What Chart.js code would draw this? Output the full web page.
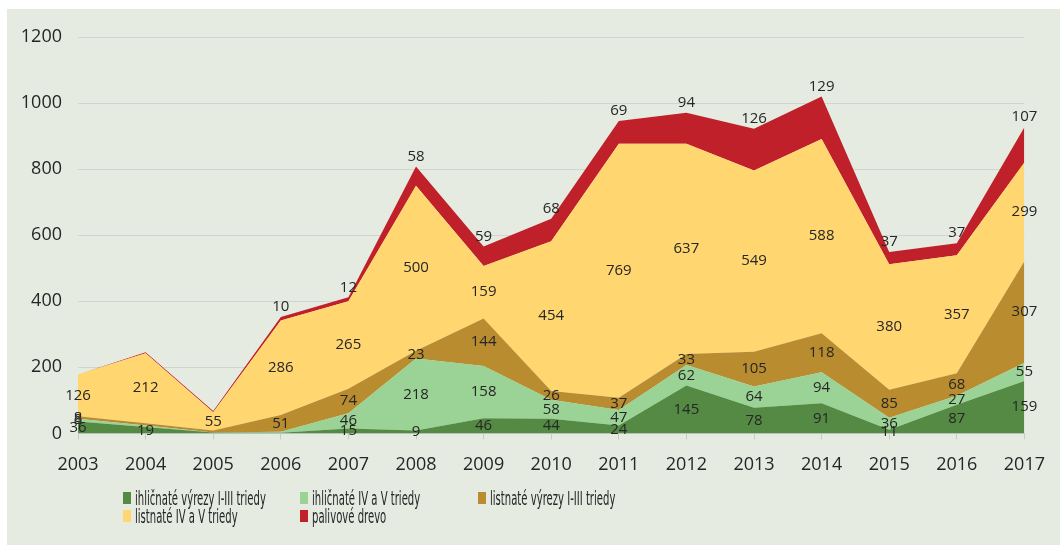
<!DOCTYPE html>
<html>
<head>
<meta charset="utf-8">
<script src="https://cdn.jsdelivr.net/npm/chart.js@4.4.1/dist/chart.umd.min.js"></script>
<style>
    body { margin: 0; background: #fff; width: 1060px; height: 545px; overflow: hidden; }
    .panel { position: absolute; left: 7px; top: 9px; width: 1053px; height: 536px; background: #E6EBE2; }
    .panel canvas { position: absolute; left: 0; top: 0; }
    .legend-item { position: absolute; height: 18px; display: flex; align-items: center;
        font-family: "DejaVu Sans Condensed", "Liberation Sans Narrow", sans-serif; font-size: 20px; color: #262626; white-space: nowrap; }
    .legend-box { width: 8px; height: 12px; margin-right: 4px; flex: none; }
    .legend-text { display: inline-block; transform: scaleX(0.56); transform-origin: left center; }
</style>
</head>
<body>
<div class="panel" id="panel">
    <canvas id="chart" width="1053" height="485"></canvas>
</div>
<script>
// roky na osi x
const years = ['2003', '2004', '2005', '2006', '2007', '2008', '2009', '2010', '2011', '2012', '2013', '2014', '2015', '2016', '2017'];

// hodnoty jednotlivých sortimentov (odčítané z grafu)
const ihlVyrezy = [36, 19, 3, 2, 15, 9, 46, 44, 24, 145, 78, 91, 11, 87, 159];
const ihlIV = [8, 5, 0, 3, 46, 218, 158, 58, 47, 62, 64, 94, 36, 27, 55];
const listVyrezy = [8, 7, 6, 51, 74, 23, 144, 26, 37, 33, 105, 118, 85, 68, 307];
const listIV = [126, 212, 55, 286, 265, 500, 159, 454, 769, 637, 549, 588, 380, 357, 299];
const palivo = [0, 3, 4, 10, 12, 58, 59, 68, 69, 94, 126, 129, 37, 37, 107];

const seriesNames = ['ihličnaté výrezy I-III triedy', 'ihličnaté IV a V triedy', 'listnaté výrezy I-III triedy', 'listnaté IV a V triedy', 'palivové drevo'];
const seriesColors = ['#548A44', '#9BD295', '#B98C2F', '#FFD66F', '#C0202A'];
const seriesData = [ihlVyrezy, ihlIV, listVyrezy, listIV, palivo];

const yTicks = [0, 200, 400, 600, 800, 1000, 1200];

const textColor = '#262626';

// popisky hodnôt - v strede pásma, palivové drevo nad vrcholom
const valueLabels = {
    id: 'valueLabels',
    afterDatasetsDraw(chart) {
        const { ctx, scales: { x, y } } = chart;
        const sets = chart.data.datasets;
        const last = sets.length - 1;
        ctx.save();
        ctx.font = '15px "Open Sans"';
        ctx.fillStyle = textColor;
        ctx.textAlign = 'center';
        ctx.textBaseline = 'middle';
        years.forEach((_, j) => {
            let base = 0;
            sets.forEach((ds, i) => {
                const v = ds.data[j];
                if (v >= 8) {
                    const px = x.getPixelForValue(j);
                    const py = i === last
                        ? y.getPixelForValue(base + v) - 10
                        : y.getPixelForValue(base + v / 2);
                    ctx.fillText(String(v), px, py);
                }
                base += v;
            });
        });
        ctx.restore();
    }
};

const ctx = document.getElementById('chart').getContext('2d');
new Chart(ctx, {
    type: 'line',
    data: {
        labels: years,
        datasets: seriesData.map((data, i) => ({
            label: seriesNames[i],
            data: data,
            backgroundColor: seriesColors[i],
            borderColor: seriesColors[i],
            borderWidth: 0,
            pointRadius: 0,
            fill: i === 0 ? 'origin' : '-1',
            tension: 0
        }))
    },
    options: {
        responsive: false,
        animation: false,
        layout: { padding: { top: 28, right: 34, bottom: 3, left: 0 } },
        plugins: {
            legend: { display: false },
            tooltip: { enabled: false }
        },
        scales: {
            x: {
                offset: false,
                grid: { display: true, drawOnChartArea: false, drawTicks: true, tickLength: 6, color: '#C9CCC6' },
                border: { display: true, color: '#C9CCC6' },
                ticks: { color: textColor, font: { family: 'Open Sans', size: 18 }, padding: 15, maxRotation: 0, autoSkip: false }
            },
            y: {
                stacked: true,
                min: 0,
                max: 1200,
                afterFit: scale => { scale.width = 71; },
                afterBuildTicks: scale => { scale.ticks = yTicks.map(v => ({ value: v })); },
                grid: { color: '#D2D5CF', drawTicks: false },
                border: { display: false },
                ticks: { color: textColor, font: { family: 'Open Sans', size: 18 }, padding: 16, callback: v => String(v) }
            }
        }
    },
    plugins: [valueLabels]
});

// legenda v troch stĺpcoch pod grafom
const panel = document.getElementById('panel');
const legendLeft = [116, 293, 471];
const legendTop = [483, 501];
seriesNames.forEach((name, i) => {
    const item = document.createElement('div');
    item.className = 'legend-item';
    item.style.left = legendLeft[i % 3] + 'px';
    item.style.top = (legendTop[Math.floor(i / 3)] - 3) + 'px';
    item.innerHTML = `<span class="legend-box" style="background:${seriesColors[i]}"></span><span class="legend-text">${name}</span>`;
    panel.appendChild(item);
});
</script>
</body>
</html>
